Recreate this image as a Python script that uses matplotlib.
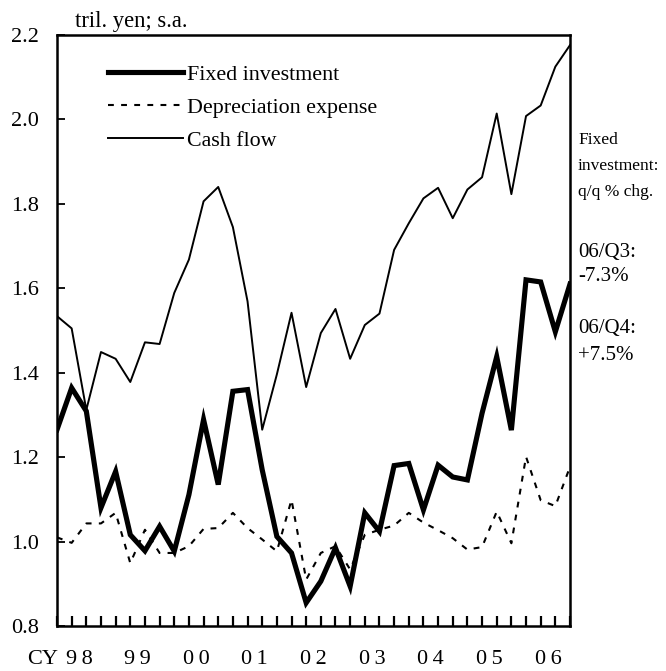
import matplotlib
matplotlib.use("Agg")
import matplotlib.pyplot as plt
import numpy as np

plt.rcParams['font.family'] = ['Liberation Serif', 'DejaVu Serif']

# quarterly data, CY1998 Q1 .. CY2006 Q4 (tril. yen, s.a.)
years = ['98', '99', '00', '01', '02', '03', '04', '05', '06']

fixed_investment = [1.265, 1.364, 1.309, 1.080, 1.166, 1.016, 0.978, 1.036,
                    0.977, 1.111, 1.289, 1.135, 1.356, 1.360, 1.170, 1.012,
                    0.973, 0.855, 0.906, 0.985, 0.894, 1.068, 1.024, 1.180,
                    1.185, 1.075, 1.181, 1.153, 1.146, 1.304, 1.438, 1.264,
                    1.620, 1.615, 1.497, 1.610]

depreciation = [1.010, 0.997, 1.043, 1.043, 1.068, 0.949, 1.028, 0.973,
                0.973, 0.989, 1.030, 1.032, 1.068, 1.032, 1.005, 0.977,
                1.099, 0.910, 0.973, 0.989, 0.934, 1.016, 1.028, 1.038,
                1.068, 1.045, 1.027, 1.008, 0.981, 0.987, 1.071, 0.996,
                1.201, 1.098, 1.084, 1.177]

cash_flow = [1.534, 1.505, 1.312, 1.449, 1.433, 1.378, 1.472, 1.468,
             1.589, 1.668, 1.806, 1.840, 1.745, 1.569, 1.265, 1.396,
             1.542, 1.366, 1.494, 1.551, 1.433, 1.513, 1.540, 1.691,
             1.754, 1.813, 1.838, 1.766, 1.834, 1.863, 2.014, 1.823,
             2.008, 2.033, 2.125, 2.176]

x = np.arange(len(fixed_investment))

fig = plt.figure(figsize=(6.66, 6.71), dpi=100)
ax = fig.add_axes([57 / 666, 45 / 671, 513 / 666, 591 / 671])

ax.plot(x, fixed_investment, color='black', lw=3.7, solid_joinstyle='miter',
        label='Fixed investment')
ax.plot(x, depreciation, color='black', lw=1.5, dashes=(2.8, 3.5),
        label='Depreciation expense')
ax.plot(x, cash_flow, color='black', lw=1.4, label='Cash flow')

ax.set_xlim(0, len(x) - 1)
ax.set_ylim(0.8, 2.2)
ax.set_yticks(np.arange(0.8, 2.21, 0.2))
ax.set_yticklabels([f'{v:.1f}' for v in np.arange(0.8, 2.21, 0.2)])

# quarter ticks, year labels at mid-year (digits spread out like the original)
ax.set_xticks(x)
ax.set_xticklabels([])
ax.set_xticks(np.arange(len(years)) * 4 + 1.5, minor=True)
ax.set_xticklabels(['\u2009'.join(y) for y in years], minor=True)
ax.tick_params(axis='x', which='major', direction='in', length=7, width=1.6)
ax.tick_params(axis='x', which='minor', length=0, pad=17, labelsize=16)
ax.tick_params(axis='y', direction='in', length=6, width=1.3, pad=13, labelsize=16)

for s in ax.spines.values():
    s.set_linewidth(1.8)

ax.annotate('CY', xy=(0, 0), xycoords='axes fraction', xytext=(1, -17),
            textcoords='offset points', ha='right', va='top', fontsize=16)
ax.text(0.035, 1.005, 'tril. yen; s.a.', transform=ax.transAxes, ha='left', va='bottom',
        fontsize=16.3)

ax.legend(loc='upper left', bbox_to_anchor=(0.1, 0.95), frameon=False,
          fontsize=15.8, handlelength=3.4, handletextpad=0.2, labelspacing=0.58,
          borderpad=0, borderaxespad=0)

fig.text(578 / 666, 1 - 140 / 671, 'Fixed', fontsize=12.5, va='center', ha='left')
fig.text(578 / 666, 1 - 166 / 671, 'investment:', fontsize=12.5, va='center', ha='left')
fig.text(578 / 666, 1 - 192 / 671, 'q/q % chg.', fontsize=12.5, va='center', ha='left')
fig.text(578 / 666, 1 - 252 / 671, '06/Q3:', fontsize=15, va='center', ha='left')
fig.text(578 / 666, 1 - 277 / 671, '-7.3%', fontsize=15, va='center', ha='left')
fig.text(578 / 666, 1 - 329 / 671, '06/Q4:', fontsize=15, va='center', ha='left')
fig.text(578 / 666, 1 - 355 / 671, '+7.5%', fontsize=15, va='center', ha='left')

fig.savefig('out.png', dpi=100)
